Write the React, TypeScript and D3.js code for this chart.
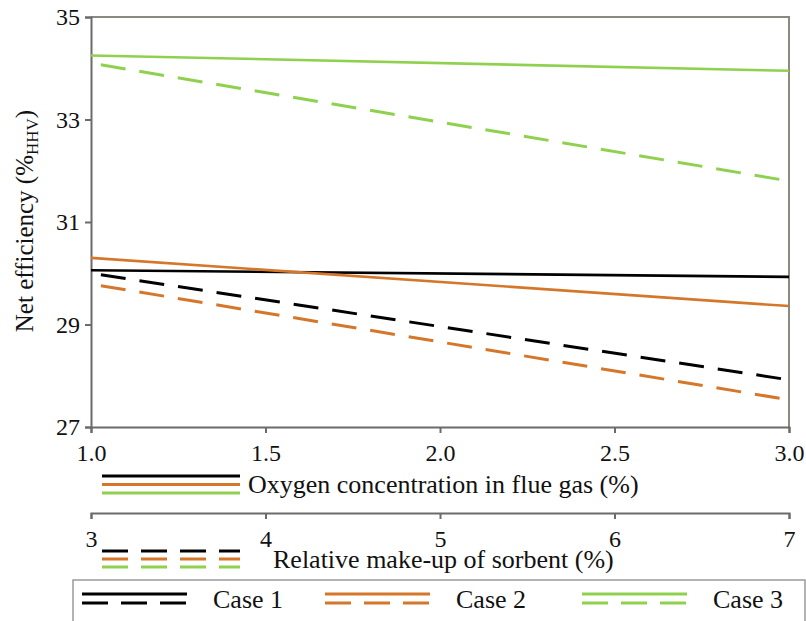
import React, { useRef, useEffect } from 'react';
import * as d3 from 'd3';

// axis ticks
const o2Ticks = [1.0, 1.5, 2.0, 2.5, 3.0];
const sorbentTicks = [3, 4, 5, 6, 7];
const effTicks = [27, 29, 31, 33, 35];

// end points of each series (x = 1.0 and 3.0 % O2 / 3 and 7 % sorbent)
const o2X = [1.0, 3.0];
const sorbentX = [3, 7];
const caseNames = ['Case 1', 'Case 2', 'Case 3'];
const caseColors = ['#000000', '#d5772a', '#8fd14f'];
const o2Eff = [
  [30.06, 29.93],
  [30.3, 29.36],
  [34.25, 33.95],
];
const sorbentEff = [
  [30.0, 27.92],
  [29.79, 27.53],
  [34.1, 31.8],
];

const FONT = '"Liberation Serif", "Times New Roman", serif';

const App = () => {
  const svgRef = useRef<SVGSVGElement | null>(null);

  useEffect(() => {
    if (!svgRef.current) return;
    const svg = d3.select(svgRef.current);
    svg.selectAll('*').remove();

    const left = 91, right = 789, top = 17, bottom = 427;

    const x = d3.scaleLinear().domain([1, 3]).range([left, right]);
    const xs = d3.scaleLinear().domain([3, 7]).range([left, right]);
    const y = d3.scaleLinear().domain([27, 35]).range([bottom, top]);

    const axisColor = '#6b6b6b';

    // frame top/right
    svg.append('path')
      .attr('d', `M${left},${top}H${right}V${bottom}`)
      .attr('fill', 'none')
      .attr('stroke', '#8a8a80')
      .attr('stroke-width', 2);

    const styleAxis = (g: any) => {
      g.style('font-family', FONT);
      g.select('.domain').attr('stroke', axisColor).attr('stroke-width', 2);
      g.selectAll('.tick line').attr('stroke', axisColor).attr('stroke-width', 2);
      g.selectAll('.tick text')
        .style('font-family', FONT).style('font-size', '24px').attr('fill', '#111');
    };

    // y axis
    svg.append('g')
      .attr('transform', `translate(${left},0)`)
      .call(d3.axisLeft(y).tickValues(effTicks).tickSize(6).tickPadding(5).tickFormat(d3.format('d')))
      .call(styleAxis);

    // x axis (O2)
    svg.append('g')
      .attr('transform', `translate(0,${bottom})`)
      .call(d3.axisBottom(x).tickValues(o2Ticks).tickSize(6).tickPadding(11).tickFormat(d3.format('.1f')))
      .call(styleAxis);

    // second x axis (sorbent)
    svg.append('g')
      .attr('transform', `translate(0,513)`)
      .call(d3.axisBottom(xs).tickValues(sorbentTicks).tickSize(6).tickPadding(11).tickFormat(d3.format('d')))
      .call(styleAxis);

    // y label
    const yl = svg.append('text')
      .attr('transform', 'translate(33,221) rotate(-90)')
      .attr('text-anchor', 'middle')
      .style('font-family', FONT)
      .attr('font-size', 25)
      .attr('fill', '#111');
    yl.append('tspan').text('Net efficiency (%');
    yl.append('tspan').attr('font-size', 17).attr('dy', 5).text('HHV');
    yl.append('tspan').attr('dy', -5).text(')');

    const line = d3.line<[number, number]>();

    // solid series (O2)
    o2Eff.forEach((vals, i) => {
      svg.append('path')
        .attr('d', line(o2X.map((v, j) => [x(v), y(vals[j])] as [number, number])))
        .attr('fill', 'none')
        .attr('stroke', caseColors[i])
        .attr('stroke-width', 2.6);
    });

    // dashed series (sorbent)
    sorbentEff.forEach((vals, i) => {
      svg.append('path')
        .attr('d', line(sorbentX.map((v, j) => [xs(v), y(vals[j])] as [number, number])))
        .attr('fill', 'none')
        .attr('stroke', caseColors[i])
        .attr('stroke-width', 3)
        .attr('stroke-dasharray', '25,14')
        .attr('stroke-dashoffset', 29);
    });

    // axis legends
    caseColors.forEach((c, i) => {
      svg.append('line')
        .attr('x1', 102).attr('x2', 240)
        .attr('y1', 476 + i * 8.5).attr('y2', 476 + i * 8.5)
        .attr('stroke', c).attr('stroke-width', 3);
      svg.append('line')
        .attr('x1', 102).attr('x2', 240)
        .attr('y1', 551 + i * 8).attr('y2', 551 + i * 8)
        .attr('stroke', c).attr('stroke-width', 3)
        .attr('stroke-dasharray', '26,13');
    });
    svg.append('text')
      .attr('x', 248).attr('y', 493)
      .style('font-family', FONT).attr('font-size', 26).attr('fill', '#111')
      .text('Oxygen concentration in flue gas (%)');
    svg.append('text')
      .attr('x', 273).attr('y', 568)
      .style('font-family', FONT).attr('font-size', 26).attr('fill', '#111')
      .text('Relative make-up of sorbent (%)');

    // case legend box
    svg.append('rect')
      .attr('x', 73).attr('y', 580)
      .attr('width', 732).attr('height', 60)
      .attr('fill', 'none')
      .attr('stroke', '#9a9a9a')
      .attr('stroke-width', 1.5);

    const legendX = [82, 325, 582];
    caseNames.forEach((name, i) => {
      const lx = legendX[i];
      svg.append('line')
        .attr('x1', lx).attr('x2', lx + 105)
        .attr('y1', 594).attr('y2', 594)
        .attr('stroke', caseColors[i]).attr('stroke-width', 3);
      svg.append('line')
        .attr('x1', lx).attr('x2', lx + 105)
        .attr('y1', 603).attr('y2', 603)
        .attr('stroke', caseColors[i]).attr('stroke-width', 3)
        .attr('stroke-dasharray', '26,13');
      svg.append('text')
        .attr('x', lx + 131).attr('y', 608)
        .style('font-family', FONT).attr('font-size', 26).attr('fill', '#111')
        .text(name);
    });
  }, []);

  return (
    <svg
      ref={svgRef}
      width={806}
      height={621}
      style={{ position: 'absolute', left: 0, top: 0, background: '#fff' }}
    />
  );
};

export default App;
